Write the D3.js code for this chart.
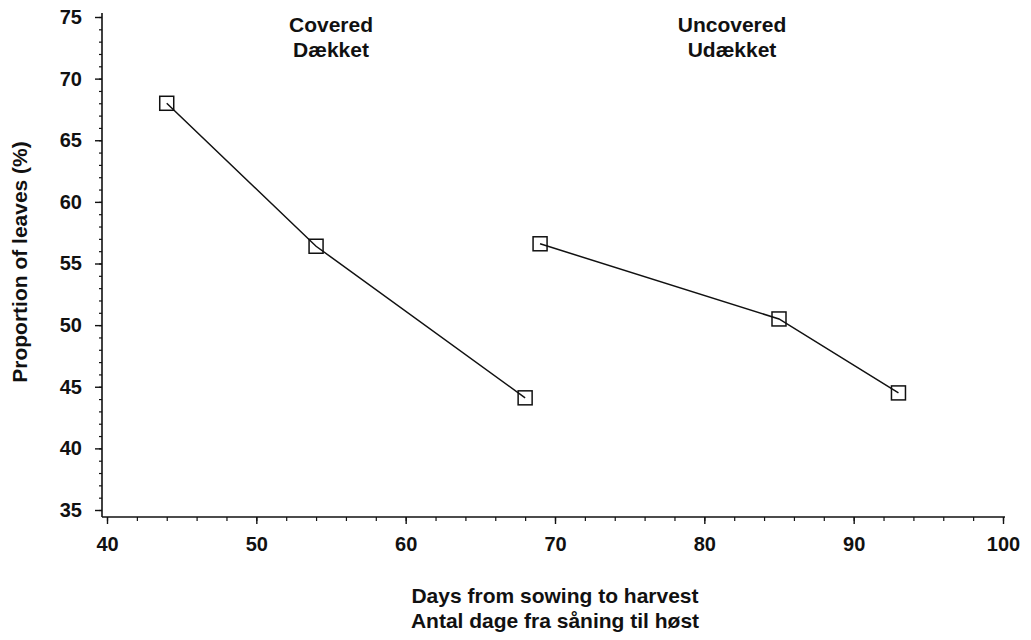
<!DOCTYPE html>
<html>
<head>
<meta charset="utf-8">
<script src="https://cdn.jsdelivr.net/npm/d3@7/dist/d3.min.js"></script>
<style>
  html, body { margin: 0; padding: 0; background: #fff; }
  svg { display: block; }
  text { font-family: "Liberation Sans", Arial, Helvetica, sans-serif; fill: #111; }
</style>
</head>
<body>
<svg id="chart" width="1031" height="640"></svg>
<script>
// Days from sowing to harvest and share of leaves (%) for each treatment
const coveredDays = [44, 54, 68];
const coveredLeaves = [68.0, 56.4, 44.1];
const uncoveredDays = [69, 85, 93];
const uncoveredLeaves = [56.6, 50.5, 44.5];

const xTicks = [40, 50, 60, 70, 80, 90, 100];
const yTicks = [35, 40, 45, 50, 55, 60, 65, 70, 75];
const groupLabels = [["Covered", "Dækket"], ["Uncovered", "Udækket"]];
const xTitle = ["Days from sowing to harvest", "Antal dage fra såning til høst"];
const yTitle = "Proportion of leaves (%)";

const svg = d3.select("#chart");
const FONT = "'Liberation Sans', Arial, sans-serif";

const x = d3.scaleLinear().domain([40, 100]).range([107, 1003]);
const y = d3.scaleLinear().domain([35, 75]).range([510, 17]);

const axisX = 102;   // y-axis line position
const axisY = 517;   // x-axis line position

// Axis lines
svg.append("line").attr("x1", axisX).attr("x2", axisX).attr("y1", 13).attr("y2", axisY)
  .attr("stroke", "#111").attr("stroke-width", 1.6);
svg.append("line").attr("x1", axisX).attr("x2", 1005).attr("y1", axisY).attr("y2", axisY)
  .attr("stroke", "#111").attr("stroke-width", 1.6);

// Y axis: major ticks every 5, minor every 1
const yAxis = svg.append("g").attr("transform", `translate(${axisX},0)`);
yAxis.call(d3.axisLeft(y).tickValues(d3.range(35, 75.5, 1)).tickSize(3).tickFormat(""))
  .call(g => g.select(".domain").remove())
  .call(g => g.selectAll("line").attr("stroke", "#111").attr("stroke-width", 1.2));
yAxis.append("g")
  .call(d3.axisLeft(y).tickValues(yTicks).tickSize(7).tickPadding(13).tickFormat(d3.format("d")))
  .call(g => g.select(".domain").remove())
  .call(g => g.selectAll("line").attr("stroke", "#111").attr("stroke-width", 1.4))
  .call(g => g.selectAll("text").attr("font-size", 20).attr("font-weight", "bold")
    .attr("font-family", FONT).attr("fill", "#111"));

// X axis: major ticks every 10, minor every 2
const xAxis = svg.append("g").attr("transform", `translate(0,${axisY})`);
xAxis.call(d3.axisBottom(x).tickValues(d3.range(40, 100.5, 2)).tickSize(4).tickFormat(""))
  .call(g => g.select(".domain").remove())
  .call(g => g.selectAll("line").attr("stroke", "#111").attr("stroke-width", 1.2));
xAxis.append("g")
  .call(d3.axisBottom(x).tickValues(xTicks).tickSize(7).tickPadding(13).tickFormat(d3.format("d")))
  .call(g => g.select(".domain").remove())
  .call(g => g.selectAll("line").attr("stroke", "#111").attr("stroke-width", 1.4))
  .call(g => g.selectAll("text").attr("font-size", 20).attr("font-weight", "bold")
    .attr("font-family", FONT).attr("fill", "#111"));

// Series lines and open square markers
const series = [
  { days: coveredDays, leaves: coveredLeaves },
  { days: uncoveredDays, leaves: uncoveredLeaves }
];
const line = d3.line().x(d => x(d[0])).y(d => y(d[1]));
series.forEach(s => {
  const pts = s.days.map((d, i) => [d, s.leaves[i]]);
  svg.append("path").attr("d", line(pts)).attr("fill", "none")
    .attr("stroke", "#111").attr("stroke-width", 1.5);
  svg.selectAll(null).data(pts).enter().append("rect")
    .attr("x", d => x(d[0]) - 7).attr("y", d => y(d[1]) - 7)
    .attr("width", 14).attr("height", 14)
    .attr("fill", "none").attr("stroke", "#111").attr("stroke-width", 1.5);
});

// Treatment labels
const labelPos = [331, 732];
groupLabels.forEach((lines, i) => {
  const t = svg.append("text").attr("x", labelPos[i]).attr("y", 32)
    .attr("text-anchor", "middle").attr("font-size", 21).attr("font-weight", "bold");
  lines.forEach((l, j) => t.append("tspan").attr("x", labelPos[i]).attr("dy", j ? 25 : 0).text(l));
});

// Axis titles
const xt = svg.append("text").attr("x", 555).attr("y", 603)
  .attr("text-anchor", "middle").attr("font-size", 21).attr("font-weight", "bold");
xTitle.forEach((l, j) => xt.append("tspan").attr("x", 555).attr("dy", j ? 25 : 0).text(l));

svg.append("text").attr("transform", "translate(27,262) rotate(-90)")
  .attr("text-anchor", "middle").attr("font-size", 21).attr("font-weight", "bold")
  .text(yTitle);
</script>
</body>
</html>
